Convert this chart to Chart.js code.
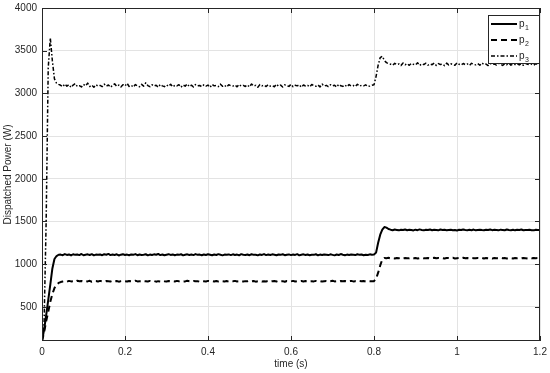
<!DOCTYPE html>
<html>
<head>
<meta charset="utf-8">
<script src="https://cdn.jsdelivr.net/npm/chart.js@4.4.1/dist/chart.umd.min.js"></script>
<style>
  body { margin: 0; background: #fff; }
</style>
</head>
<body>
<canvas id="chart" width="550" height="373"></canvas>
<script>
// sample instants (s)
const time = [
  0,0.005,0.01,0.015,0.02,0.025,0.03,0.035,0.04,0.045,0.05,0.055,0.06,0.065,0.07,0.075,0.08,0.085,0.09,0.095,
  0.1,0.105,0.11,0.115,0.12,0.125,0.13,0.135,0.14,0.145,0.15,0.155,0.16,0.165,0.17,0.175,0.18,0.185,0.19,0.195,
  0.2,0.205,0.21,0.215,0.22,0.225,0.23,0.235,0.24,0.245,0.25,0.255,0.26,0.265,0.27,0.275,0.28,0.285,0.29,0.295,
  0.3,0.305,0.31,0.315,0.32,0.325,0.33,0.335,0.34,0.345,0.35,0.355,0.36,0.365,0.37,0.375,0.38,0.385,0.39,0.395,
  0.4,0.405,0.41,0.415,0.42,0.425,0.43,0.435,0.44,0.445,0.45,0.455,0.46,0.465,0.47,0.475,0.48,0.485,0.49,0.495,
  0.5,0.505,0.51,0.515,0.52,0.525,0.53,0.535,0.54,0.545,0.55,0.555,0.56,0.565,0.57,0.575,0.58,0.585,0.59,0.595,
  0.6,0.605,0.61,0.615,0.62,0.625,0.63,0.635,0.64,0.645,0.65,0.655,0.66,0.665,0.67,0.675,0.68,0.685,0.69,0.695,
  0.7,0.705,0.71,0.715,0.72,0.725,0.73,0.735,0.74,0.745,0.75,0.755,0.76,0.765,0.77,0.775,0.78,0.785,0.79,0.795,
  0.8,0.805,0.81,0.815,0.82,0.825,0.83,0.835,0.84,0.845,0.85,0.855,0.86,0.865,0.87,0.875,0.88,0.885,0.89,0.895,
  0.9,0.905,0.91,0.915,0.92,0.925,0.93,0.935,0.94,0.945,0.95,0.955,0.96,0.965,0.97,0.975,0.98,0.985,0.99,0.995,
  1,1.005,1.01,1.015,1.02,1.025,1.03,1.035,1.04,1.045,1.05,1.055,1.06,1.065,1.07,1.075,1.08,1.085,1.09,1.095,
  1.1,1.105,1.11,1.115,1.12,1.125,1.13,1.135,1.14,1.145,1.15,1.155,1.16,1.165,1.17,1.175,1.18,1.185,1.19,1.195,
  1.2
];

const p1 = [
  100,230,400,580,760,950,1060,1095,1110,
  1112,1105,1118,1108,1114,1102,1116,1109,1113,1106,
  1119,1104,1111,1115,1107,1117,1103,1112,1109,1114,
  1105,1116,1110,1120,1106,1113,1108,1115,1102,1111,
  1117,1107,1112,1104,1114,1109,1118,1105,1113,1108,
  1111,1116,1103,1112,1107,1115,1110,1119,1106,1113,
  1104,1111,1117,1108,1114,1105,1112,1109,1116,1103,
  1110,1115,1107,1113,1106,1118,1109,1112,1104,1114,
  1108,1116,1111,1105,1113,1107,1117,1110,1103,1112,
  1109,1114,1106,1115,1108,1112,1104,1117,1110,1107,
  1113,1105,1116,1109,1111,1103,1114,1108,1118,1106,
  1112,1107,1115,1110,1104,1113,1109,1116,1105,1111,
  1114,1106,1112,1108,1117,1103,1110,1115,1107,1113,
  1105,1111,1109,1116,1104,1112,1108,1114,1110,1106,
  1115,1109,1103,1113,1107,1118,1111,1105,1112,1108,
  1114,1110,1106,1116,1109,1113,1104,1111,1107,1115,
  1110,
  1112,1135,1250,1345,1405,1435,1428,1412,1404,
  1398,1405,1401,1396,1403,1399,1406,1397,1402,1400,
  1395,1404,1398,1407,1401,1396,1403,1399,1405,1397,
  1402,1400,1396,1406,1399,1403,1397,1401,1404,1398,
  1400,1395,1403,1399,1406,1401,1397,1402,1398,1405,
  1396,1401,1404,1399,1397,1403,1400,1406,1398,1402,
  1399,1396,1404,1401,1397,1405,1400,1398,1403,1396,
  1402,1399,1405,1397,1401,1400,1404,1398,1396,1403,
  1401,1399
];

const p2 = [
  100,200,330,440,560,650,720,760,780,
  790,797,802,795,804,798,800,793,806,799,
  803,796,801,798,805,794,800,802,797,804,
  799,795,803,800,797,806,798,802,795,801,
  804,799,796,803,800,797,805,798,801,794,
  802,800,797,804,799,803,795,801,798,806,
  800,796,803,798,801,797,804,799,802,795,
  798,805,800,796,803,799,801,794,802,800,
  797,804,799,801,796,803,798,805,800,797,
  802,795,801,799,804,797,800,803,796,801,
  799,805,798,802,795,800,804,797,801,798,
  803,796,800,802,797,805,799,801,794,803,
  800,798,804,796,801,799,803,797,802,800,
  795,801,798,804,799,802,796,800,803,797,
  801,805,798,800,796,803,799,802,797,801,
  804,798,800,795,802,799,803,797,801,800,
  799,
  801,830,900,985,1055,1072,1070,1074,1068,
  1071,1067,1073,1069,1074,1066,1072,1070,1068,1075,
  1069,1072,1066,1071,1074,1068,1070,1073,1067,1071,
  1075,1069,1072,1068,1070,1066,1073,1071,1069,1074,
  1067,1070,1072,1068,1075,1069,1071,1067,1073,1070,
  1068,1072,1070,1074,1066,1071,1069,1073,1067,1072,
  1070,1068,1074,1069,1071,1067,1073,1070,1066,1072,
  1069,1071,1068,1073,1070,1067,1074,1069,1072,1070,
  1071,1068
];

const p3 = [
  100,300,1500,3300,3650,3380,3170,3120,3105,
  3095,3078,3110,3085,3102,3070,3098,3115,3082,3090,
  3075,3105,3088,3120,3080,3096,3072,3101,3086,3093,
  3079,3108,3084,3099,3071,3094,3112,3083,3097,3076,
  3102,3087,3118,3081,3095,3074,3103,3089,3077,3106,
  3085,3124,3092,3078,3101,3086,3096,3073,3104,3088,
  3079,3099,3083,3107,3076,3094,3087,3102,3072,3098,
  3085,3110,3080,3096,3075,3103,3089,3093,3078,3100,
  3084,3097,3071,3105,3088,3092,3079,3108,3083,3095,
  3074,3101,3090,3086,3098,3077,3104,3085,3093,3081,
  3099,3076,3110,3087,3094,3072,3103,3088,3096,3080,
  3102,3085,3091,3078,3107,3084,3097,3075,3100,3089,
  3082,3106,3079,3095,3088,3101,3073,3098,3086,3093,
  3077,3104,3090,3083,3099,3076,3108,3085,3094,3080,
  3101,3087,3096,3074,3105,3089,3082,3098,3078,3103,
  3086,3092,3079,3107,3084,3095,3088,3100,3081,3085,
  3095,
  3100,3200,3330,3420,3435,3385,3360,3348,3342,
  3330,3352,3338,3345,3326,3356,3335,3348,3329,3351,
  3340,3333,3358,3327,3346,3337,3353,3331,3344,3336,
  3355,3328,3349,3339,3343,3325,3354,3334,3347,3338,
  3329,3357,3341,3332,3350,3336,3345,3327,3352,3340,
  3334,3348,3330,3356,3339,3343,3326,3351,3337,3345,
  3332,3353,3341,3328,3347,3336,3354,3331,3344,3338,
  3349,3333,3346,3329,3352,3340,3335,3343,3330,3348,
  3337,3342
];

const xTicks = [0, 0.2, 0.4, 0.6, 0.8, 1, 1.2];
const yTicks = [500, 1000, 1500, 2000, 2500, 3000, 3500, 4000];

[p1, p2, p3].forEach((s, i) => {
  if (s.length !== time.length) throw new Error("p" + (i + 1) + " has " + s.length + " values, time has " + time.length);
});

const pts = arr => arr.map((v, i) => ({ x: time[i], y: v }));
const axisColor = "#262626";
const font = "'Liberation Sans', Arial, sans-serif";

// box around plot, inward tick marks, legend inside the axes (matlab look)
const framePlugin = {
  id: "frame",
  afterDatasetsDraw(chart) {
    const { ctx, chartArea: a, scales } = chart;
    ctx.save();
    ctx.strokeStyle = axisColor;
    ctx.lineWidth = 1;
    ctx.strokeRect(a.left + 0.5, a.top + 0.5, a.right - a.left - 1, a.bottom - a.top - 1);

    ctx.beginPath();
    xTicks.forEach(v => {
      const x = Math.round(scales.x.getPixelForValue(v)) + 0.5;
      ctx.moveTo(x, a.bottom); ctx.lineTo(x, a.bottom - 5);
      ctx.moveTo(x, a.top); ctx.lineTo(x, a.top + 5);
    });
    yTicks.forEach(v => {
      const y = Math.round(scales.y.getPixelForValue(v)) + 0.5;
      ctx.moveTo(a.left, y); ctx.lineTo(a.left + 5, y);
      ctx.moveTo(a.right, y); ctx.lineTo(a.right - 5, y);
    });
    ctx.stroke();

    // legend
    const bx = 488, by = 15, bw = 51, bh = 48;
    ctx.fillStyle = "#fff";
    ctx.fillRect(bx, by, bw, bh);
    ctx.strokeStyle = axisColor;
    ctx.strokeRect(bx + 0.5, by + 0.5, bw, bh);
    chart.data.datasets.forEach((ds, i) => {
      const y = by + 9 + i * 16;
      ctx.beginPath();
      ctx.setLineDash(ds.borderDash || []);
      ctx.lineWidth = ds.borderWidth;
      ctx.strokeStyle = ds.borderColor;
      ctx.moveTo(bx + 3, y);
      ctx.lineTo(bx + 29, y);
      ctx.stroke();
      ctx.setLineDash([]);
      ctx.fillStyle = axisColor;
      ctx.textBaseline = "middle";
      ctx.font = "10px " + font;
      ctx.fillText("p", bx + 31, y);
      ctx.font = "7px " + font;
      ctx.fillText(String(i + 1), bx + 37, y + 4);
    });
    ctx.restore();
  }
};

new Chart(document.getElementById("chart"), {
  type: "line",
  data: {
    datasets: [
      { label: "p1", data: pts(p1), borderColor: "#000", borderWidth: 2 },
      { label: "p2", data: pts(p2), borderColor: "#000", borderWidth: 2, borderDash: [6, 4] },
      { label: "p3", data: pts(p3), borderColor: "#000", borderWidth: 1.5, borderDash: [4, 2, 1.5, 2] }
    ]
  },
  options: {
    responsive: false,
    animation: false,
    devicePixelRatio: 1,
    layout: { padding: { top: 8, right: 10, left: 2, bottom: 0 } },
    elements: {
      point: { radius: 0 },
      line: { tension: 0, borderJoinStyle: "round", fill: false }
    },
    plugins: { legend: { display: false }, tooltip: { enabled: false } },
    scales: {
      x: {
        type: "linear",
        min: 0,
        max: 1.2,
        afterFit: s => { s.height = 32; s.paddingRight = 0; s.paddingLeft = 0; },
        afterBuildTicks: s => { s.ticks = xTicks.map(v => ({ value: v })); },
        ticks: {
          color: axisColor,
          font: { family: font, size: 10 },
          padding: 5,
          maxRotation: 0,
          callback: v => String(v)
        },
        grid: { color: "#e3e3e3", tickLength: 0 },
        border: { display: false },
        title: { display: true, text: "time (s)", color: axisColor, font: { family: font, size: 10 }, padding: { top: 0, bottom: 3 } }
      },
      y: {
        min: 100,
        max: 4000,
        afterFit: s => { s.width = 40; s.paddingTop = 0; s.paddingBottom = 0; },
        afterBuildTicks: s => { s.ticks = yTicks.map(v => ({ value: v })); },
        ticks: {
          color: axisColor,
          font: { family: font, size: 10 },
          padding: 5,
          callback: v => String(v)
        },
        grid: { color: "#e3e3e3", tickLength: 0 },
        border: { display: false },
        title: { display: true, text: "Dispatched Power (W)", color: axisColor, font: { family: font, size: 10 }, padding: { top: 0, bottom: 2 } }
      }
    }
  },
  plugins: [framePlugin]
});
</script>
</body>
</html>
